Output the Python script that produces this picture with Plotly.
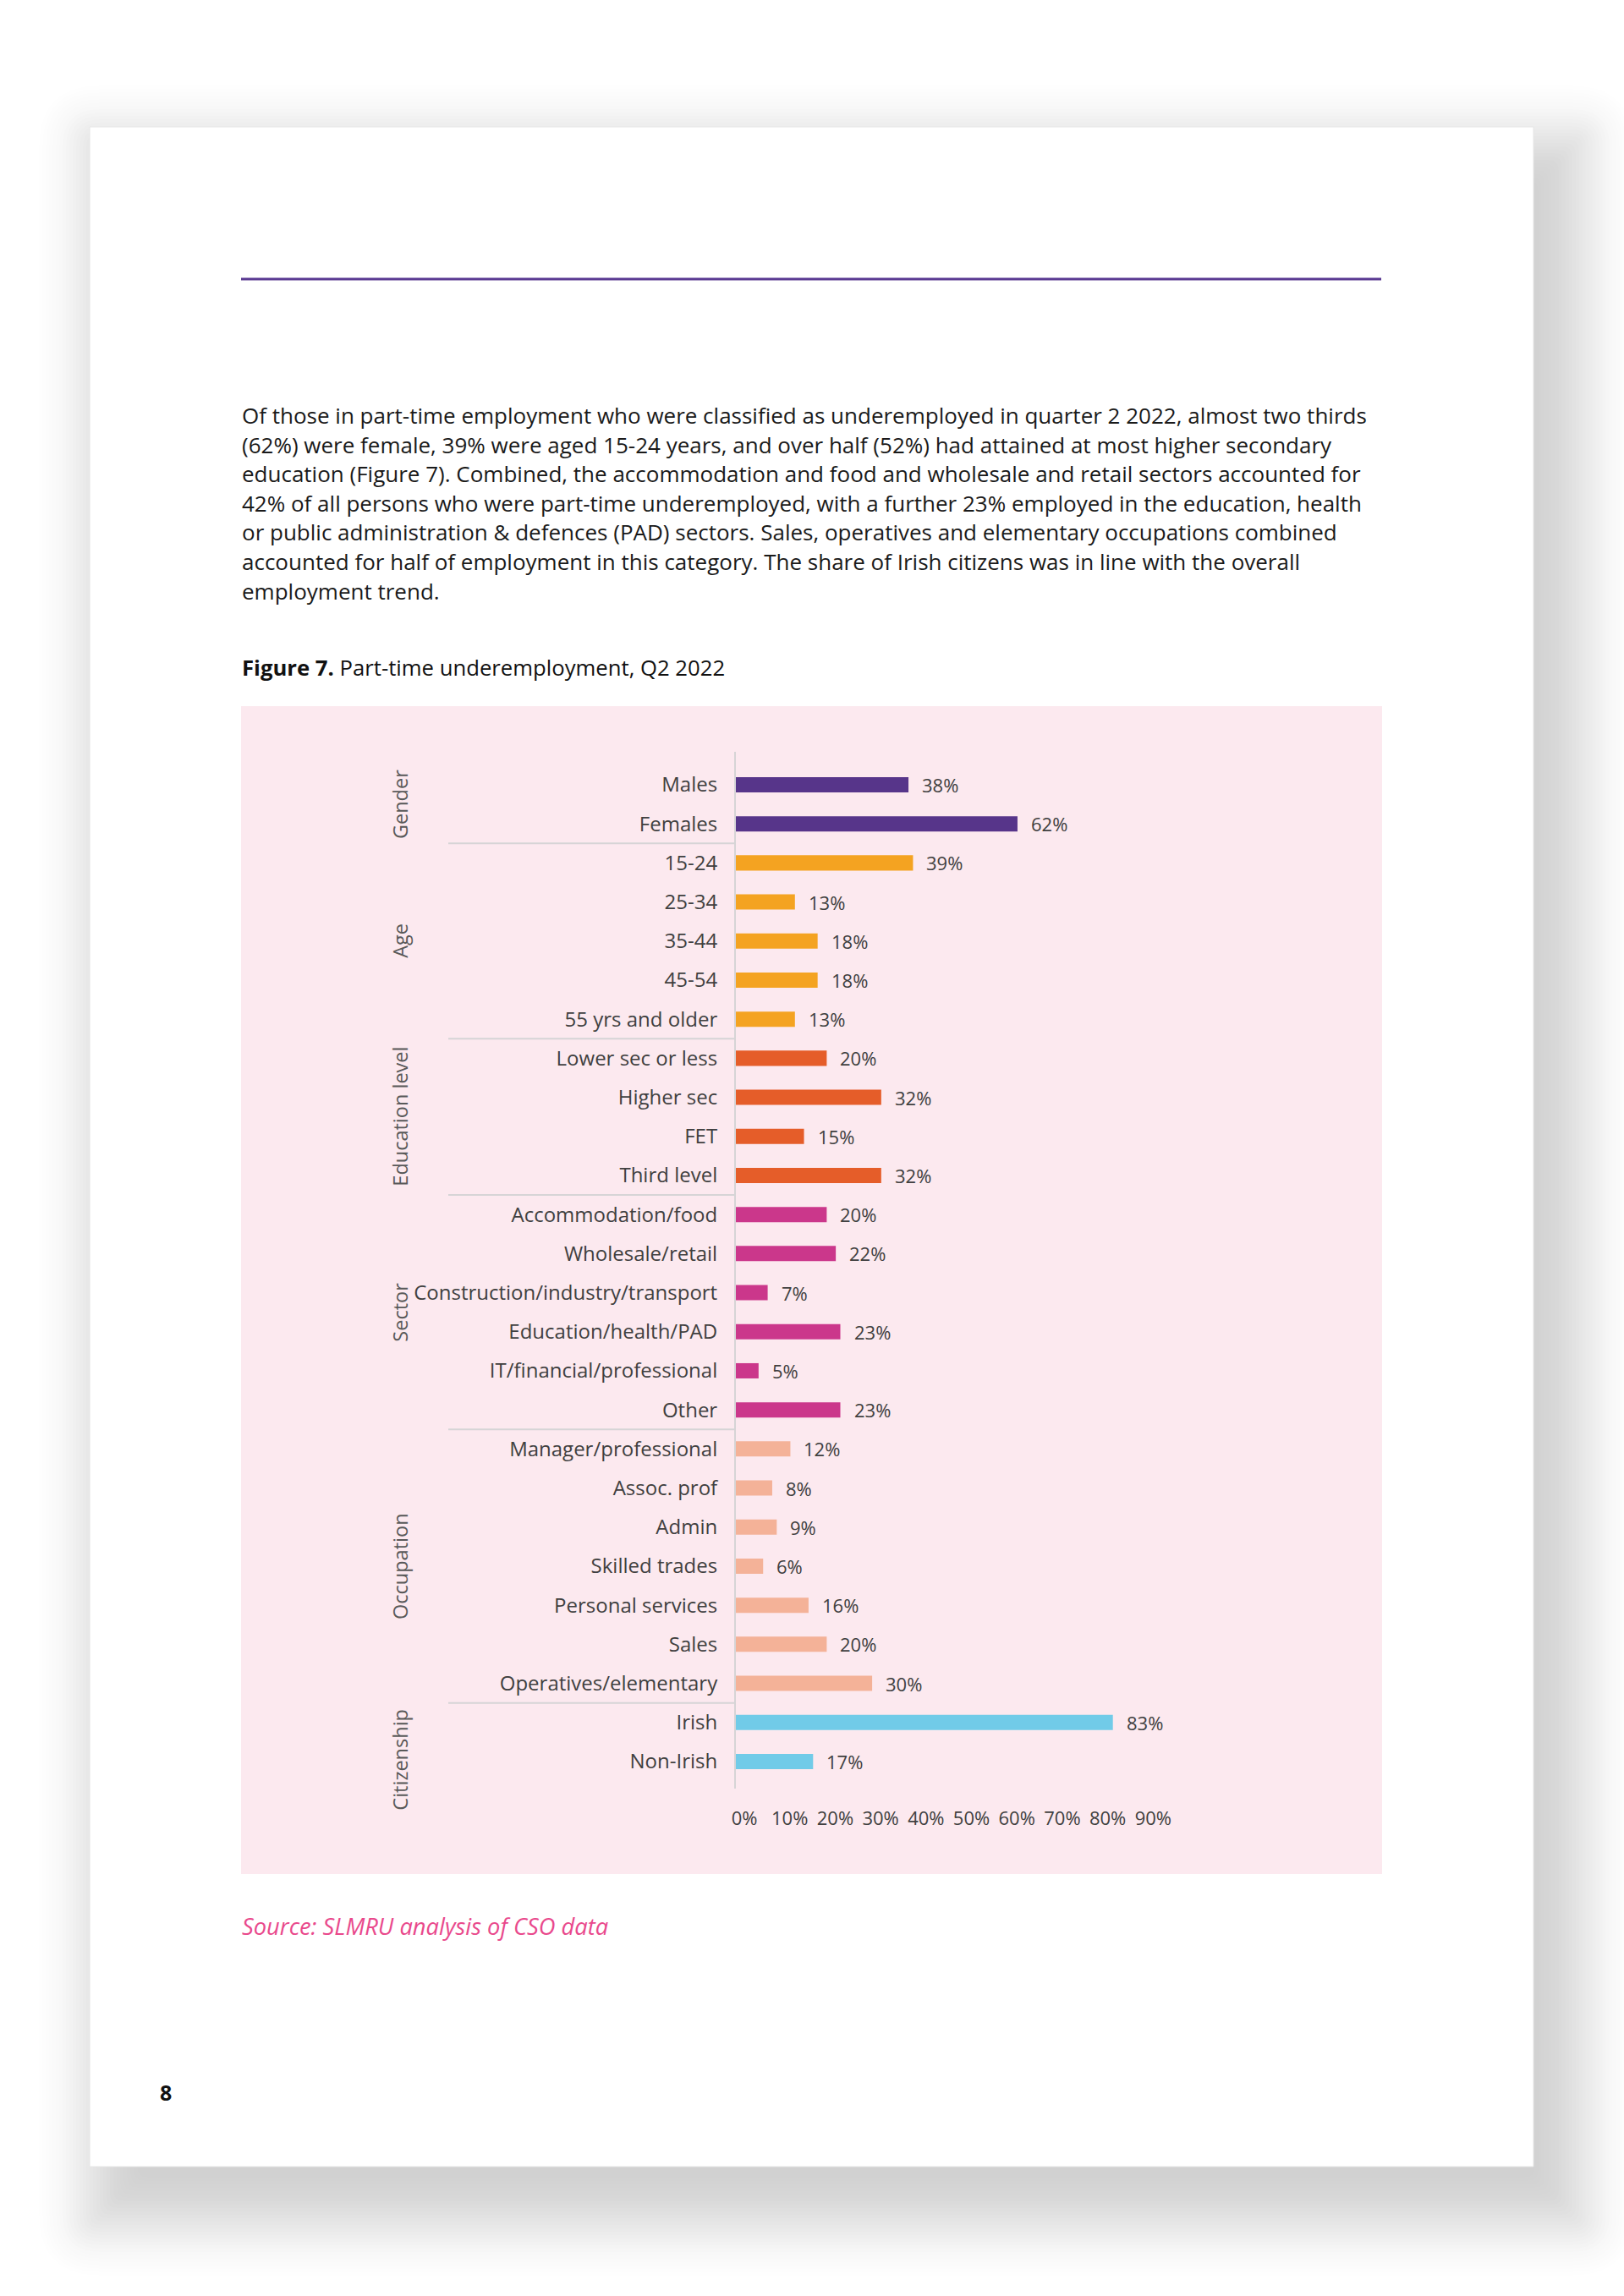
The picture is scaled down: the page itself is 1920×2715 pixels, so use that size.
import math
import plotly.graph_objects as go

W, H = 1920, 2715

def px(x):
    return x / W

def py(y):
    return 1 - y / H

# ---------------- data ----------------
group_names = ["Gender", "Age", "Education level", "Sector", "Occupation", "Citizenship"]

gender_cats = ["Males", "Females"]
gender_vals = [38, 62]

age_cats = ["15-24", "25-34", "35-44", "45-54", "55 yrs and older"]
age_vals = [39, 13, 18, 18, 13]

edu_cats = ["Lower sec or less", "Higher sec", "FET", "Third level"]
edu_vals = [20, 32, 15, 32]

sector_cats = ["Accommodation/food", "Wholesale/retail", "Construction/industry/transport",
               "Education/health/PAD", "IT/financial/professional", "Other"]
sector_vals = [20, 22, 7, 23, 5, 23]

occ_cats = ["Manager/professional", "Assoc. prof", "Admin", "Skilled trades",
            "Personal services", "Sales", "Operatives/elementary"]
occ_vals = [12, 8, 9, 6, 16, 20, 30]

cit_cats = ["Irish", "Non-Irish"]
cit_vals = [83, 17]

x_ticks = [0, 10, 20, 30, 40, 50, 60, 70, 80, 90]
x_tick_labels = [f"{t}%" for t in x_ticks]

group_colors = ["#57358a", "#f4a321", "#e55d29", "#cb378b", "#f4b298", "#71cbe8"]

body_lines = [
    "Of those in part-time employment who were classified as underemployed in quarter 2 2022, almost two thirds",
    "(62%) were female, 39% were aged 15-24 years, and over half (52%) had attained at most higher secondary",
    "education (Figure 7). Combined, the accommodation and food and wholesale and retail sectors accounted for",
    "42% of all persons who were part-time underemployed, with a further 23% employed in the education, health",
    "or public administration &amp; defences (PAD) sectors. Sales, operatives and elementary occupations combined",
    "accounted for half of employment in this category. The share of Irish citizens was in line with the overall",
    "employment trend.",
]

groups = [
    (gender_cats, gender_vals),
    (age_cats, age_vals),
    (edu_cats, edu_vals),
    (sector_cats, sector_vals),
    (occ_cats, occ_vals),
    (cit_cats, cit_vals),
]

all_cats = [c for cats, _ in groups for c in cats]

FONT = "Open Sans"
TXT = "#404040"

fig = go.Figure()

for (cats, vals), col in zip(groups, group_colors):
    fig.add_trace(go.Bar(
        y=cats, x=vals, orientation="h",
        marker=dict(color=col, line=dict(width=0)),
        width=0.39, showlegend=False, hoverinfo="skip",
    ))

annotations = []
shapes = []

# value labels
for cats, vals in groups:
    for c, v in zip(cats, vals):
        annotations.append(dict(
            x=v, y=c, xref="x", yref="y", text=f"{v}%", showarrow=False,
            xanchor="left", yanchor="middle", xshift=14,
            font=dict(family=FONT, size=22, color=TXT),
        ))

# group separators and group labels
start = 0
for gi, ((cats, vals), name) in enumerate(zip(groups, group_names)):
    n = len(cats)
    mid = start + (n - 1) / 2
    if name == "Citizenship":
        mid += 0.45
    annotations.append(dict(
        x=px(473), xref="paper", y=mid, yref="y", text=name, showarrow=False,
        textangle=-90, xanchor="center", yanchor="middle",
        font=dict(family=FONT, size=23.5, color="#595959"),
    ))
    if gi < len(groups) - 1:
        b = start + n - 0.5
        shapes.append(dict(
            type="line", xref="paper", yref="y",
            x0=px(530), x1=px(870), y0=b, y1=b,
            line=dict(color="#d6d4d6", width=2), layer="above",
        ))
    start += n

# ---------------- page with soft drop shadow ----------------
page_x0, page_x1, page_y0, page_y1 = 106, 1813, 150, 2562
sdx, sdy, spread, sigma, amp = 29, 40, 29, 35.0, 0.2
sx0, sx1 = page_x0 + sdx - spread, page_x1 + sdx + spread
sy0, sy1 = page_y0 + sdy - spread, page_y1 + sdy + spread


def phi(z):
    return 0.5 * (1 + math.erf(z / math.sqrt(2)))


def rrect_path(x0, y0, x1, y1, r):
    r = max(0.0, min(r, (x1 - x0) / 2, (y1 - y0) / 2))
    pts = []

    def P(x, y):
        return f"{px(x):.6f},{py(y):.6f}"
    pts.append(f"M{P(x0 + r, y0)}")
    pts.append(f"L{P(x1 - r, y0)}")
    pts.append(f"Q{P(x1, y0)} {P(x1, y0 + r)}")
    pts.append(f"L{P(x1, y1 - r)}")
    pts.append(f"Q{P(x1, y1)} {P(x1 - r, y1)}")
    pts.append(f"L{P(x0 + r, y1)}")
    pts.append(f"Q{P(x0, y1)} {P(x0, y1 - r)}")
    pts.append(f"L{P(x0, y0 + r)}")
    pts.append(f"Q{P(x0, y0)} {P(x0 + r, y0)}")
    pts.append("Z")
    return " ".join(pts)


bg_shapes = []
step = 4.0
e = -64.0
layers = []
while e <= 104.0:
    a = amp * (phi(e / sigma) - phi((e - step) / sigma))
    layers.append((e, a))
    e += step
for e, a in reversed(layers):
    bg_shapes.append(dict(
        type="path", xref="paper", yref="paper",
        path=rrect_path(sx0 - e, sy0 - e, sx1 + e, sy1 + e, max(e, 0) + 12),
        fillcolor=f"rgba(0,0,0,{a:.5f})", line=dict(width=0), layer="below",
    ))

bg_shapes.append(dict(
    type="rect", xref="paper", yref="paper",
    x0=px(page_x0), x1=px(page_x1), y0=py(page_y0), y1=py(page_y1),
    fillcolor="white", line=dict(color="#e6e6e6", width=1), layer="below",
))
# purple rule
bg_shapes.append(dict(
    type="line", xref="paper", yref="paper",
    x0=px(285), x1=px(1633), y0=py(330), y1=py(330),
    line=dict(color="#5a3a92", width=3), layer="below",
))
# pink panel
bg_shapes.append(dict(
    type="rect", xref="paper", yref="paper",
    x0=px(285), x1=px(1634), y0=py(835), y1=py(2216),
    fillcolor="#fce9ef", line=dict(width=0), layer="below",
))

# body text
for i, line in enumerate(body_lines):
    annotations.append(dict(
        x=px(284), y=py(491 + i * 34.6), xref="paper", yref="paper",
        text=line, showarrow=False, xanchor="left", yanchor="middle",
        font=dict(family=FONT, size=26, color="#1a1a1a"),
    ))

annotations.append(dict(
    x=px(284), y=py(789), xref="paper", yref="paper",
    text="<b>Figure 7.</b> Part-time underemployment, Q2 2022", showarrow=False,
    xanchor="left", yanchor="middle",
    font=dict(family=FONT, size=25.7, color="#111111"),
))

annotations.append(dict(
    x=px(284), y=py(2277), xref="paper", yref="paper",
    text="<i>Source: SLMRU analysis of CSO data</i>", showarrow=False,
    xanchor="left", yanchor="middle",
    font=dict(family=FONT, size=27.3, color="#e9498c"),
))

annotations.append(dict(
    x=px(196), y=py(2474), xref="paper", yref="paper",
    text="<b>8</b>", showarrow=False, xanchor="center", yanchor="middle",
    font=dict(family=FONT, size=25, color="#111111"),
))

fig.update_layout(
    width=W, height=H,
    autosize=False,
    margin=dict(l=0, r=0, t=0, b=0, pad=0, autoexpand=False),
    paper_bgcolor="white",
    plot_bgcolor="rgba(0,0,0,0)",
    barmode="overlay",
    shapes=bg_shapes + shapes,
    annotations=annotations,
    xaxis=dict(
        domain=[px(870), px(870 + 90 * 5.37)],
        range=[0, 90], tickmode="array", tickvals=x_ticks, ticktext=x_tick_labels,
        showgrid=False, zeroline=False, showline=False, ticks="",
        tickfont=dict(family=FONT, size=22, color=TXT),
        ticklabelshift=10, ticklabelstandoff=20,
        fixedrange=True, automargin=False,
    ),
    yaxis=dict(
        domain=[py(2115.3), py(888.7)],
        type="category", categoryorder="array", categoryarray=all_cats,
        range=[25.7, -0.85],
        showgrid=False, zeroline=False,
        showline=True, linecolor="#d6d4d6", linewidth=2,
        ticks="", ticklabelstandoff=15,
        tickfont=dict(family=FONT, size=24, color=TXT),
        fixedrange=True, automargin=False,
    ),
)

fig.write_html(
    "out.html",
    config={"responsive": False, "displayModeBar": False},
    post_script="document.body.style.margin='0';document.body.style.overflow='hidden';",
)
